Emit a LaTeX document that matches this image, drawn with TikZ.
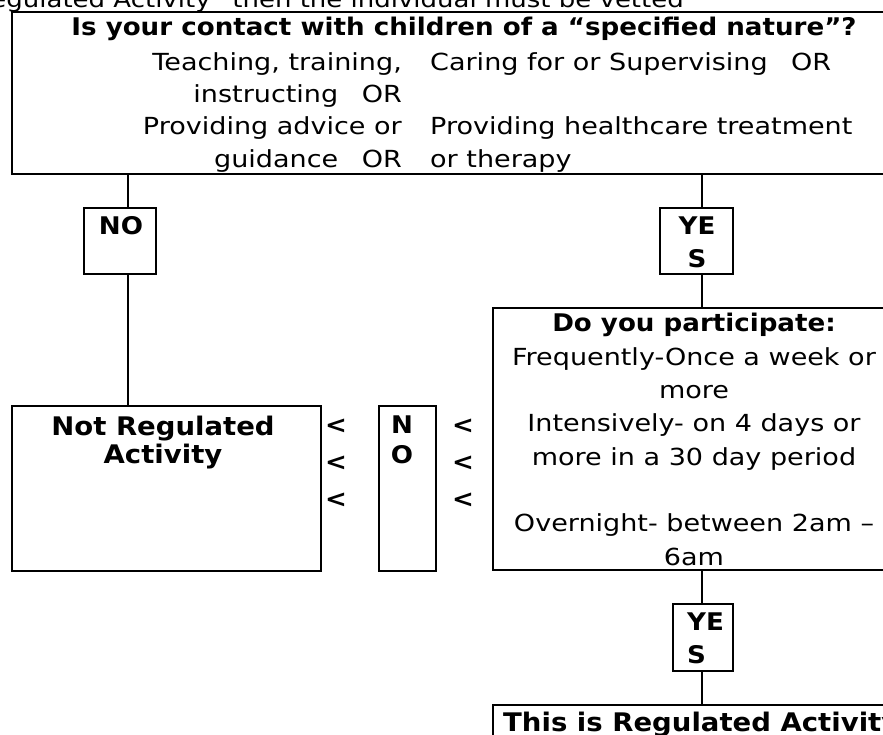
\documentclass[tikz,border=0pt]{standalone}
\usepackage{fontspec}
\setmainfont{DejaVu Sans}[UprightFeatures={FakeStretch=1.15}, BoldFeatures={FakeStretch=1.075}]

\tikzset{
  frame/.style={draw, line width=2.2pt, rectangle, inner sep=0pt, anchor=north west},
  link/.style={line width=1.8pt},
  body/.style={inner sep=0pt, font=\fontsize{23.5}{33}\selectfont},
  head/.style={inner sep=0pt, font=\fontsize{24.3}{33}\selectfont\bfseries},
}

\begin{document}
\begin{tikzpicture}[x=1pt,y=-1pt]
\useasboundingbox (0,0) rectangle (883,734);
\clip (0,0) rectangle (883,734);

% boxes
\node[frame, minimum width=890pt, minimum height=162pt] (question) at (11,11) {};
\node[frame, minimum width=72pt, minimum height=66pt] (nobox) at (83,207) {};
\node[frame, minimum width=73pt, minimum height=66pt] (yesbox) at (659,207) {};
\node[frame, minimum width=400pt, minimum height=262pt] (freqbox) at (492,307) {};
\node[frame, minimum width=309pt, minimum height=165pt] (notreg) at (11,405) {};
\node[frame, minimum width=57pt, minimum height=165pt] (nobox2) at (378,405) {};
\node[frame, minimum width=60pt, minimum height=67pt] (yesbox2) at (672,603) {};
\node[frame, minimum width=400pt, minimum height=100pt] (regbox) at (492,704) {};

% texts (multi-line nodes sit on their last baseline)
\node[body, anchor=base east, font=\fontsize{22.6}{30}\selectfont] (intro) at (684,7) {Regulated Activity” then the individual must be vetted};
\node[head, anchor=base] (qtitle) at (464,35) {Is your contact with children of a “specified nature”?};
\node[body, anchor=base east, align=right, font=\fontsize{23.5}{32.3}\selectfont] (qleft) at (402,167) {Teaching, training,\\ instructing\quad OR\\ Providing advice or\\ guidance\quad OR};
\node[body, anchor=base west, align=left, font=\fontsize{23.5}{32.3}\selectfont] (qright) at (430,167) {Caring for or Supervising\quad OR\\ \mbox{}\\ Providing healthcare treatment\\ or therapy};
\node[head, anchor=base] (notext) at (121,234) {NO};
\node[head, anchor=base, align=center] (yestext) at (697,267) {YE\\ S};
\node[head, anchor=base] (freqtitle) at (694,331) {Do you participate:};
\node[body, anchor=base, align=center, font=\fontsize{23.5}{33.3}\selectfont] (freqtext) at (694,565) {Frequently-Once a week or\\ more\\ Intensively- on 4 days or\\ more in a 30 day period\\ \mbox{}\\ Overnight- between 2am –\\ 6am};
\node[head, anchor=base, align=center, font=\fontsize{25.6}{28}\selectfont\bfseries] (notregtext) at (163,463) {Not Regulated\\ Activity};
\node[head, anchor=base, align=center, font=\fontsize{24.3}{30}\selectfont\bfseries] (no2text) at (402,463) {N\\ O};
\node[head, anchor=base, align=center, font=\fontsize{24.3}{37}\selectfont\bfseries] (ltleft) at (336,507) {<\\ <\\ <};
\node[head, anchor=base, align=center, font=\fontsize{24.3}{37}\selectfont\bfseries] (ltright) at (463,507) {<\\ <\\ <};
\node[head, anchor=base west, align=left] (yes2text) at (687,663) {YE\\ S};
\node[head, anchor=base west, font=\fontsize{25.6}{30}\selectfont\bfseries] (regtext) at (503,731) {This is Regulated Activity};

% connectors
\coordinate (leftline) at (128,0);
\coordinate (rightline) at (702,0);
\draw[link] (question.south -| leftline) -- (nobox.north -| leftline);
\draw[link] (nobox.south -| leftline) -- (notreg.north -| leftline);
\draw[link] (question.south -| rightline) -- (yesbox.north -| rightline);
\draw[link] (yesbox.south -| rightline) -- (freqbox.north -| rightline);
\draw[link] (freqbox.south -| rightline) -- (yesbox2.north -| rightline);
\draw[link] (yesbox2.south -| rightline) -- (regbox.north -| rightline);
\end{tikzpicture}
\end{document}
